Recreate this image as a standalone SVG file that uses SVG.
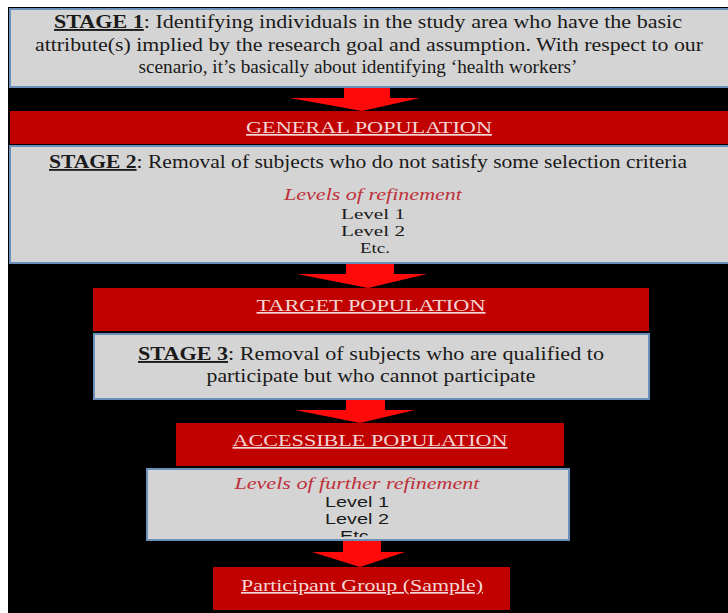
<svg xmlns="http://www.w3.org/2000/svg" width="728" height="613" viewBox="0 0 728 613">
<defs>
<style>
.gray{fill:#d4d4d4;stroke:#6a8fb8;stroke-width:2}
.red{fill:#c10000}
.arrow{fill:#ff0a0a}
.t{font-family:"Liberation Serif","Times New Roman",serif;fill:#1a1a1a;text-anchor:middle}
.band{font-family:"Liberation Serif","Times New Roman",serif;fill:#f3d6d6;text-anchor:middle;text-decoration:underline}
.it{font-family:"Liberation Serif","Times New Roman",serif;font-style:italic;fill:#c0303a;text-anchor:middle}
.sans{font-family:"Liberation Sans",Arial,sans-serif;fill:#1a1a1a;text-anchor:middle}
.b{font-weight:bold;text-decoration:underline}
</style>
<clipPath id="clipLv"><rect x="147" y="470" width="422" height="67"/></clipPath>
</defs>
<rect x="0" y="0" width="728" height="613" fill="#ffffff"/>
<rect x="8" y="7" width="720" height="606" fill="#000000"/>

<g id="connectors">
<polygon class="arrow" points="344,87 390,87 390,98 420,98 362,111 290,98 344,98"/>
<polygon class="arrow" points="346,263 394,263 394,274 427,274 368,288 297,274 346,274"/>
<polygon class="arrow" points="346,399 385,399 385,410 415,410 360,423 295,410 346,410"/>
<polygon class="arrow" points="343,540 381,540 381,552 405,552 360,567 312,552 343,552"/>
</g>

<g id="stage1">
<rect class="gray" x="10" y="9" width="720" height="78" fill="#d9d9d9"/>
<text class="t" font-size="19" x="368" y="28" textLength="628" lengthAdjust="spacingAndGlyphs"><tspan class="b">STAGE 1</tspan>: Identifying individuals in the study area who have the basic</text>
<text class="t" font-size="19" x="369" y="51" textLength="668" lengthAdjust="spacingAndGlyphs">attribute(s) implied by the research goal and assumption. With respect to our</text>
<text class="t" font-size="19" x="358" y="73" textLength="439" lengthAdjust="spacingAndGlyphs">scenario, it’s basically about identifying ‘health workers’</text>
</g>

<g id="general-population">
<rect class="red" x="10" y="111" width="718" height="33"/>
<text class="band" font-size="17" x="369" y="133" textLength="246" lengthAdjust="spacingAndGlyphs">GENERAL POPULATION</text>
</g>

<g id="stage2">
<rect class="gray" x="10" y="146" width="720" height="117"/>
<text class="t" font-size="18" x="368" y="168" textLength="638" lengthAdjust="spacingAndGlyphs"><tspan class="b">STAGE 2</tspan>: Removal of subjects who do not satisfy some selection criteria</text>
<text class="it" font-size="16" x="373" y="200" textLength="178" lengthAdjust="spacingAndGlyphs">Levels of refinement</text>
<text class="t" font-size="15" x="373" y="219" textLength="64" lengthAdjust="spacingAndGlyphs">Level 1</text>
<text class="t" font-size="15" x="373" y="236" textLength="64" lengthAdjust="spacingAndGlyphs">Level 2</text>
<text class="t" font-size="15" x="375" y="253" textLength="30" lengthAdjust="spacingAndGlyphs">Etc.</text>
</g>

<g id="target-population">
<rect class="red" x="93" y="288" width="556" height="43"/>
<text class="band" font-size="17" x="371" y="311" textLength="229" lengthAdjust="spacingAndGlyphs">TARGET POPULATION</text>
</g>

<g id="stage3">
<rect class="gray" x="94" y="334" width="555" height="65"/>
<text class="t" font-size="19" x="371" y="360" textLength="466" lengthAdjust="spacingAndGlyphs"><tspan class="b">STAGE 3</tspan>: Removal of subjects who are qualified to</text>
<text class="t" font-size="19" x="371" y="382" textLength="329" lengthAdjust="spacingAndGlyphs">participate but who cannot participate</text>
</g>

<g id="accessible-population">
<rect class="red" x="176" y="423" width="388" height="43"/>
<text class="band" font-size="17" x="370" y="446" textLength="275" lengthAdjust="spacingAndGlyphs">ACCESSIBLE POPULATION</text>
</g>

<g id="further-refinement">
<rect class="gray" x="147" y="469" width="422" height="71"/>
<g clip-path="url(#clipLv)">
<text class="it" font-size="16" x="357" y="489" textLength="245" lengthAdjust="spacingAndGlyphs">Levels of further refinement</text>
<text class="sans" font-size="15" x="357" y="507" textLength="64" lengthAdjust="spacingAndGlyphs">Level 1</text>
<text class="sans" font-size="15" x="357" y="524" textLength="64" lengthAdjust="spacingAndGlyphs">Level 2</text>
<text class="sans" font-size="15" x="357" y="541" textLength="34" lengthAdjust="spacingAndGlyphs">Etc.</text>
</g>
</g>

<g id="participant-group">
<rect class="red" x="213" y="567" width="297" height="43"/>
<text class="band" font-size="17" x="362" y="591" textLength="242" lengthAdjust="spacingAndGlyphs">Participant Group (Sample)</text>
</g>
</svg>
